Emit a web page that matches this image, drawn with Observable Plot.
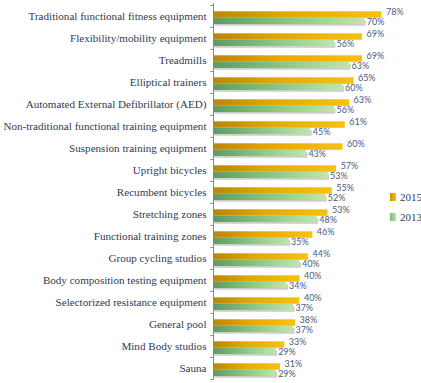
<!DOCTYPE html>
<html>
<head>
<meta charset="utf-8">
<script src="https://cdn.jsdelivr.net/npm/d3@7"></script>
<script src="https://cdn.jsdelivr.net/npm/@observablehq/plot@0.6"></script>
<style>
  html, body { margin: 0; padding: 0; background: #fff; }
  #wrap { position: relative; width: 421px; height: 383px; }
  #legend { position: absolute; left: 390px; top: 188px; font-family: "Liberation Serif", serif; font-size: 11px; color: #2f3a55; }
  #legend .item { display: flex; align-items: center; height: 17px; margin-bottom: 3px; }
  #legend .sw { width: 6px; height: 8px; margin-right: 4px; }
</style>
</head>
<body>
<div id="wrap">
  <div id="chart"></div>
  <div id="legend"></div>
</div>
<script>
const categories = [
  "Traditional functional fitness equipment",
  "Flexibility/mobility equipment",
  "Treadmills",
  "Elliptical trainers",
  "Automated External Defibrillator (AED)",
  "Non-traditional functional training equipment",
  "Suspension training equipment",
  "Upright bicycles",
  "Recumbent bicycles",
  "Stretching zones",
  "Functional training zones",
  "Group cycling studios",
  "Body composition testing equipment",
  "Selectorized resistance equipment",
  "General pool",
  "Mind Body studios",
  "Sauna"
];
const values2015 = [78, 69, 69, 65, 63, 61, 60, 57, 55, 53, 46, 44, 40, 40, 38, 33, 31];
const values2013 = [70, 56, 63, 60, 56, 45, 43, 53, 52, 48, 35, 40, 34, 37, 37, 29, 29];
const seriesNames = ["2015", "2013"];

const rows = categories.map((c, i) => ({category: c, v2015: values2015[i], v2013: values2013[i]}));

const labelColor = "#4a5a7e";
const chart = Plot.plot({
  width: 421,
  height: 383,
  marginTop: 3,
  marginBottom: 3,
  marginLeft: 213,
  marginRight: 39.5,
  style: {fontFamily: "Liberation Serif, serif", background: "#fff", overflow: "visible"},
  x: {domain: [0, 78], axis: null},
  y: {domain: categories, padding: 0, label: null, tickSize: 0, tickPadding: 7},
  marks: [
    Plot.axisY({tickSize: 0, tickPadding: 7, fontSize: 11.1, color: "#2f3a55", label: null, fontFamily: "Liberation Serif, serif"}),
    // shadow
    Plot.barX(rows, {y: "category", x: "v2013", insetTop: 15, insetBottom: 1.2, dx: 1.5, fill: "#cfcfcf"}),
    Plot.barX(rows, {y: "category", x: "v2013", insetTop: 13, insetBottom: 3, fill: "url(#gGreen)"}),
    Plot.barX(rows, {y: "category", x: "v2015", insetTop: 6.3, insetBottom: 9.2, fill: "url(#gOrange)"}),
    Plot.ruleX([0], {stroke: "#8a8a8a", strokeWidth: 1}),
    Plot.ruleY(categories, {y: d => d, x1: -1.3, x2: 0, dy: -11.09, stroke: "#8a8a8a"}),
    Plot.ruleY(categories.slice(-1), {y: d => d, x1: -1.3, x2: 0, dy: 11.09, stroke: "#8a8a8a"}),
    Plot.text(rows, {y: "category", x: "v2015", text: d => d.v2015 + "%", textAnchor: "start", dx: 4, dy: -4.3, fill: labelColor, fontSize: 9, fontFamily: "Lato, sans-serif"}),
    Plot.text(rows, {y: "category", x: "v2013", text: d => d.v2013 + "%", textAnchor: "start", dx: 2, dy: 5.3, fill: labelColor, fontSize: 9, fontFamily: "Lato, sans-serif"})
  ]
});

d3.select(chart).insert("defs", ":first-child").html(`
  <linearGradient id="gOrange" x1="0" x2="1" y1="0" y2="0">
    <stop offset="0" stop-color="#b8860b"/>
    <stop offset="0.45" stop-color="#e2a80a"/>
    <stop offset="1" stop-color="#f9c20e"/>
  </linearGradient>
  <linearGradient id="gGreen" x1="0" x2="1" y1="0" y2="0">
    <stop offset="0" stop-color="#5d9a63"/>
    <stop offset="0.5" stop-color="#8cc486"/>
    <stop offset="1" stop-color="#bfe6ad"/>
  </linearGradient>
`);
document.getElementById("chart").appendChild(chart);

const legendColors = {"2015": "linear-gradient(90deg,#c8900b,#f8c010)", "2013": "linear-gradient(90deg,#7cb57a,#bfe6ad)"};
const legend = document.getElementById("legend");
seriesNames.forEach(n => {
  const item = document.createElement("div");
  item.className = "item";
  const sw = document.createElement("span");
  sw.className = "sw";
  sw.style.background = legendColors[n];
  const t = document.createElement("span");
  t.textContent = n;
  item.appendChild(sw);
  item.appendChild(t);
  legend.appendChild(item);
});
</script>
</body>
</html>
